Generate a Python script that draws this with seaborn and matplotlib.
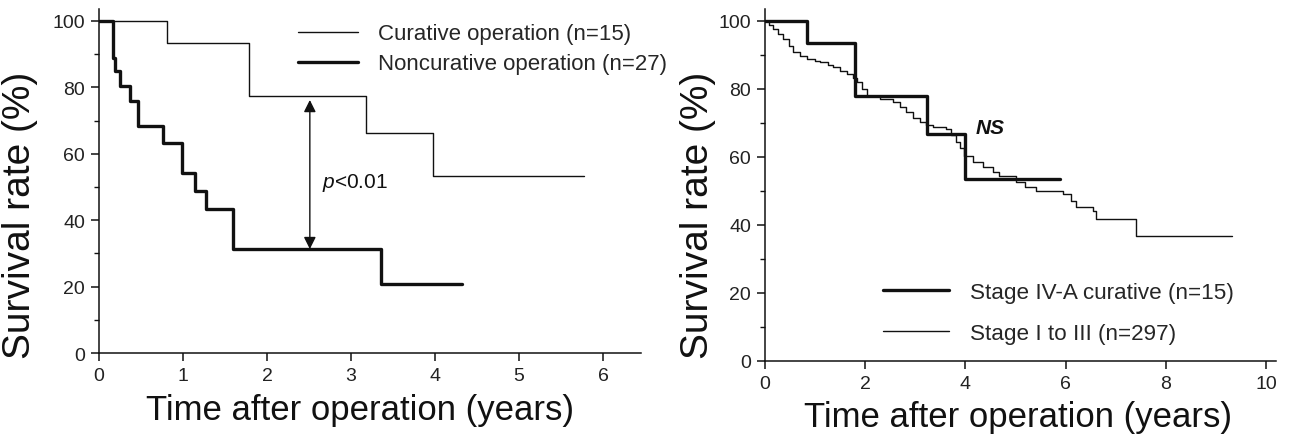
import matplotlib
matplotlib.use('Agg')
import matplotlib.pyplot as plt
from matplotlib.ticker import MultipleLocator
import seaborn as sns

# Left panel: curative vs noncurative (Kaplan-Meier)
cur_time = [0, 0.81, 1.79, 3.18, 3.97, 5.77]
cur_surv = [100, 93.3, 77.5, 66.3, 53.2, 53.2]

noncur_time = [0, 0.165, 0.19, 0.25, 0.37, 0.465, 0.765, 0.985, 1.14, 1.28, 1.60, 3.36, 4.32]
noncur_surv = [100, 88.9, 84.8, 80.3, 76.0, 68.5, 63.3, 54.3, 48.9, 43.4, 31.3, 20.8, 20.8]

# Right panel: stage IV-A curative vs stage I to III
iva_time = [0, 0.83, 1.79, 3.23, 3.99, 5.88]
iva_surv = [100, 93.3, 77.8, 66.7, 53.4, 53.4]

st13_time = [0, 0.08, 0.17, 0.27, 0.37, 0.47, 0.56, 0.70, 0.83, 1.0, 1.10, 1.25, 1.36,
             1.50, 1.63, 1.75, 1.83, 1.93, 2.03, 2.29, 2.55, 2.70, 2.82, 2.95, 3.09,
             3.22, 3.35, 3.62, 3.72, 3.82, 3.90, 3.98, 4.15, 4.35, 4.55, 4.68, 5.01,
             5.20, 5.41, 5.94, 6.10, 6.21, 6.54, 6.60, 7.40, 9.33]
st13_surv = [100, 98.8, 97.6, 96.0, 94.6, 92.5, 90.7, 89.5, 88.7, 88.2, 87.8, 87.0, 86.3,
             85.3, 84.3, 83.0, 81.9, 80.0, 77.9, 77.0, 76.0, 74.5, 73.0, 71.5, 70.1,
             69.2, 68.6, 68.1, 66.5, 64.2, 62.5, 60.3, 58.5, 57.0, 55.5, 54.4, 52.5,
             51.2, 50.0, 49.0, 47.0, 45.1, 44.1, 41.7, 36.6, 36.6]

sns.set_style('ticks')
plt.rcParams['font.family'] = ['Liberation Sans', 'DejaVu Sans']
plt.rcParams['mathtext.fontset'] = 'custom'
plt.rcParams['mathtext.it'] = 'Liberation Sans:italic'
plt.rcParams['mathtext.rm'] = 'Liberation Sans'

ink = '#111111'
thin, thick = 1.0, 2.4

fig = plt.figure(figsize=(12.95, 4.35), dpi=100)
ax1 = fig.add_axes([0.0764, 0.1862, 0.4185, 0.7908])
ax2 = fig.add_axes([0.5907, 0.1685, 0.3946, 0.8085])


def style_axis(ax, xmax, ymax, xstep):
    ax.set_xlim(0, xmax)
    ax.set_ylim(0, ymax)
    ax.xaxis.set_major_locator(MultipleLocator(xstep))
    ax.yaxis.set_major_locator(MultipleLocator(20))
    ax.yaxis.set_minor_locator(MultipleLocator(10))
    ax.set_yticks(range(0, 101, 20))
    sns.despine(ax=ax)
    for s in ['left', 'bottom']:
        ax.spines[s].set_linewidth(1.1)
        ax.spines[s].set_color(ink)
    ax.tick_params(which='major', length=6, width=1.1, color=ink, labelsize=14,
                   labelcolor='#222222', pad=4)
    ax.tick_params(which='minor', axis='y', length=3.5, width=1.0, color=ink)
    ax.set_xlabel('Time after operation (years)', fontsize=25, color=ink)
    ax.set_ylabel('Survival rate (%)', fontsize=28, color=ink)


# left panel
sns.lineplot(x=cur_time, y=cur_surv, ax=ax1, drawstyle='steps-post', estimator=None,
             color=ink, linewidth=thin, label='Curative operation (n=15)')
sns.lineplot(x=noncur_time, y=noncur_surv, ax=ax1, drawstyle='steps-post', estimator=None,
             color=ink, linewidth=thick, label='Noncurative operation (n=27)')
style_axis(ax1, 6.45, 103.6, 1)
ax1.xaxis.set_label_coords(0.482, -0.115)
ax1.yaxis.set_label_coords(-0.112, 0.404)

ax1.annotate('', xy=(2.51, 76.2), xytext=(2.51, 31.3),
             arrowprops=dict(arrowstyle='<|-|>', color=ink, lw=1.0,
                             mutation_scale=18, shrinkA=0, shrinkB=0))
ax1.text(2.66, 51.5, r'$p$<0.01', fontsize=15, color=ink, va='center', ha='left')

ax1.legend(loc='upper left', bbox_to_anchor=(298 / 1295, 1 - 24.5 / 435),
           bbox_transform=fig.transFigure, frameon=False, fontsize=16,
           handlelength=2.7, handletextpad=0.9, labelspacing=0.4,
           borderpad=0, borderaxespad=0)

# right panel
sns.lineplot(x=iva_time, y=iva_surv, ax=ax2, drawstyle='steps-post', estimator=None,
             color=ink, linewidth=thick, label='Stage IV-A curative (n=15)')
sns.lineplot(x=st13_time, y=st13_surv, ax=ax2, drawstyle='steps-post', estimator=None,
             color=ink, linewidth=thin, label='Stage I to III (n=297)')
style_axis(ax2, 10.2, 103.4, 2)
ax2.xaxis.set_label_coords(0.495, -0.112)
ax2.yaxis.set_label_coords(-0.096, 0.417)

ax2.text(4.5, 68.5, 'NS', fontsize=15, fontstyle='italic', fontweight='bold',
         color=ink, ha='center', va='center')

ax2.legend(loc='upper left', bbox_to_anchor=(883 / 1295, 1 - 282.5 / 435),
           bbox_transform=fig.transFigure, frameon=False, fontsize=16.2,
           handlelength=2.95, handletextpad=0.9, labelspacing=0.89,
           borderpad=0, borderaxespad=0)

fig.savefig('out.png', dpi=100, facecolor='white')
